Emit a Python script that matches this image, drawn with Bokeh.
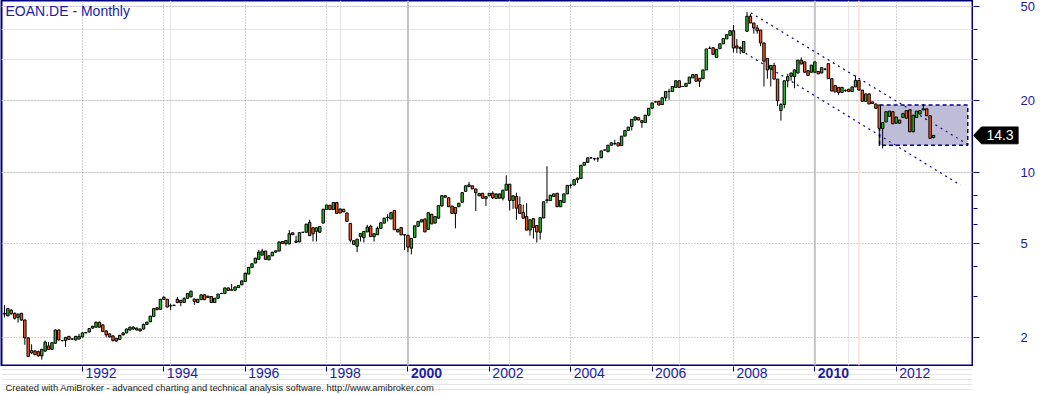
import pandas as pd
from bokeh.plotting import figure
from bokeh.layouts import column, row
from bokeh.core.properties import value
from bokeh.models import (ColumnDataSource, FixedTicker, Range1d, Span, Label, Grid,
                          LogAxis)
from bokeh.embed import file_html
from bokeh.resources import INLINE

# ---- data: EOAN.DE monthly candles, first bar = Feb 1990 ----
first_month = "1990-02-01"
opens = [
    2.52, 2.48, 2.62, 2.54, 2.44, 2.54, 2.38, 2.00, 1.73, 1.76, 1.75,
    1.68, 1.76, 1.85, 1.79, 1.90, 2.16, 1.95, 1.95, 2.03, 1.98, 1.96, 1.98,
    2.02, 2.10, 2.12, 2.20, 2.22, 2.33, 2.27, 2.14, 2.08, 2.04, 1.99, 1.97,
    2.06, 2.10, 2.16, 2.22, 2.16, 2.18, 2.18, 2.28, 2.34, 2.46, 2.68, 2.64,
    2.97, 2.91, 2.73, 2.74, 2.91, 2.88, 2.82, 2.94, 2.98, 2.92, 2.82, 2.90,
    3.04, 2.96, 2.99, 2.82, 2.94, 3.08, 3.08, 3.25, 3.18, 3.18, 3.26, 3.35,
    3.46, 3.72, 3.96, 4.14, 4.29, 4.47, 4.65, 4.27, 4.44, 4.60, 4.65, 5.10,
    5.00, 4.98, 5.55, 5.06, 5.08, 5.58, 5.58, 6.14, 5.83, 5.63, 5.58, 6.10,
    6.96, 7.25, 6.96, 7.45, 7.00, 6.80, 6.73, 6.08, 5.14, 4.87, 5.35, 5.30,
    5.60, 5.92, 5.35, 5.45, 5.80, 6.10, 6.44, 6.35, 6.90, 5.60, 5.84, 5.44,
    5.42, 4.78, 5.30, 5.92, 6.17, 6.35, 5.74, 6.65, 6.10, 6.40, 7.20, 7.96,
    7.80, 7.20, 7.10, 7.15, 7.47, 8.30, 8.70, 8.76, 8.50, 7.95, 8.15, 7.75,
    7.95, 8.15, 7.75, 8.10, 7.77, 8.40, 8.90, 7.60, 7.90, 7.30, 6.76, 6.50,
    5.70, 6.37, 5.96, 5.58, 6.41, 7.60, 7.60, 7.90, 8.15, 7.15, 7.45, 8.10,
    8.80, 8.83, 9.45, 9.40, 10.70, 11.00, 11.50, 11.40, 11.40, 11.50, 12.40, 12.20,
    13.00, 13.20, 13.30, 12.95, 14.20, 15.00, 15.60, 16.60, 17.00, 16.50, 16.20, 17.40,
    18.60, 19.80, 19.90, 19.30, 20.60, 21.90, 21.90, 22.80, 24.30, 23.00, 23.00, 23.70,
    25.00, 25.80, 24.90, 24.80, 27.00, 33.30, 33.50, 30.50, 33.20, 34.80, 36.50, 37.80,
    39.50, 34.10, 33.50, 32.00, 39.30, 45.50, 42.60, 40.60, 39.80, 35.10, 30.20, 27.30,
    28.20, 24.70, 18.20, 19.30, 24.30, 25.40, 25.30, 26.20, 29.70, 29.20, 26.80, 26.40,
    26.40, 26.60, 26.20, 27.20, 28.70, 24.80, 23.20, 22.80, 21.70, 22.10, 22.40, 21.90,
    22.90, 24.40, 22.20, 19.90, 21.40, 19.80, 19.40, 19.20, 15.30, 16.30, 17.20, 18.00,
    16.10, 16.60, 17.00, 18.20, 18.30, 14.80, 17.00, 17.60, 18.30, 18.50, 17.30, 14.00,
]
highs = [
    2.75, 2.68, 2.64, 2.56, 2.53, 2.55, 2.39, 2.01, 1.88, 1.78, 1.77,
    1.80, 1.95, 1.92, 1.92, 2.17, 2.17, 1.96, 2.02, 2.04, 1.99, 2.04, 2.08,
    2.11, 2.11, 2.20, 2.25, 2.34, 2.34, 2.28, 2.15, 2.09, 2.05, 2.00, 2.06,
    2.11, 2.19, 2.23, 2.24, 2.21, 2.19, 2.30, 2.34, 2.48, 2.67, 2.69, 2.92,
    2.99, 2.92, 2.79, 2.76, 2.98, 2.89, 2.97, 3.09, 3.16, 2.93, 2.92, 3.05,
    3.05, 3.01, 3.00, 2.95, 3.07, 3.10, 3.26, 3.26, 3.38, 3.29, 3.34, 3.49,
    3.76, 3.98, 4.12, 4.35, 4.70, 4.75, 4.66, 4.45, 4.61, 4.67, 5.09, 5.11,
    5.16, 5.70, 5.56, 5.40, 5.57, 5.59, 6.05, 6.30, 5.84, 5.84, 5.91, 6.99,
    7.28, 7.26, 7.50, 7.50, 7.01, 6.99, 6.74, 6.09, 5.15, 5.23, 5.53, 5.63,
    6.00, 6.00, 5.51, 5.90, 6.13, 6.41, 6.65, 6.76, 6.91, 5.75, 5.85, 5.46,
    5.43, 5.27, 5.95, 6.21, 6.31, 6.36, 6.76, 6.66, 6.51, 7.24, 7.97, 7.97,
    7.81, 7.21, 7.11, 7.41, 8.21, 8.77, 9.10, 8.77, 8.51, 8.15, 8.16, 7.91,
    8.16, 8.30, 8.11, 8.11, 8.41, 9.70, 8.91, 7.96, 8.20, 7.90, 7.30, 7.40,
    6.31, 6.38, 5.97, 6.44, 7.51, 10.60, 8.01, 8.11, 8.16, 7.61, 8.11, 8.81,
    8.95, 9.31, 9.46, 10.71, 11.01, 11.51, 11.60, 11.50, 11.60, 12.31, 12.45, 13.01,
    13.31, 13.70, 13.31, 14.21, 15.01, 15.51, 16.71, 17.20, 17.10, 16.51, 17.41, 18.61,
    19.61, 19.90, 19.91, 20.61, 21.91, 22.50, 23.01, 24.31, 24.31, 23.10, 23.71, 25.21,
    25.81, 25.81, 24.91, 27.01, 33.11, 34.00, 33.51, 33.01, 34.81, 36.61, 38.01, 39.51,
    41.80, 36.50, 34.00, 35.61, 47.50, 46.50, 42.61, 41.80, 39.81, 35.11, 30.21, 28.21,
    29.00, 24.71, 19.60, 24.31, 26.00, 26.30, 27.10, 29.71, 30.50, 29.21, 26.81, 28.31,
    29.21, 26.61, 27.61, 27.50, 28.71, 24.81, 23.21, 22.81, 22.81, 22.40, 22.41, 22.91,
    25.60, 24.41, 22.21, 21.41, 21.41, 19.81, 19.41, 19.21, 16.21, 18.01, 18.11, 18.01,
    17.11, 16.61, 17.71, 18.21, 18.31, 17.41, 18.11, 18.21, 19.40, 18.51, 17.31, 14.31,
]
lows = [
    2.44, 2.46, 2.51, 2.39, 2.32, 2.36, 1.87, 1.66, 1.71, 1.69, 1.67,
    1.62, 1.75, 1.78, 1.78, 1.89, 1.95, 1.93, 1.83, 1.96, 1.97, 1.95, 1.97,
    2.01, 2.09, 2.11, 2.19, 2.21, 2.21, 2.12, 2.01, 2.01, 1.93, 1.93, 1.96,
    2.05, 2.09, 2.15, 2.17, 2.15, 2.13, 2.17, 2.27, 2.33, 2.45, 2.62, 2.63,
    2.90, 2.69, 2.62, 2.74, 2.80, 2.72, 2.81, 2.93, 2.97, 2.76, 2.81, 2.89,
    2.89, 2.95, 2.81, 2.81, 2.93, 3.06, 3.07, 3.16, 3.17, 3.17, 3.25, 3.34,
    3.45, 3.71, 3.95, 4.13, 4.28, 4.46, 4.28, 4.26, 4.43, 4.59, 4.64, 4.99,
    4.90, 4.97, 5.44, 5.05, 5.07, 5.57, 5.57, 5.39, 5.10, 5.10, 5.57, 6.09,
    6.95, 6.95, 6.95, 6.69, 6.72, 6.79, 6.19, 5.06, 4.95, 4.60, 5.10, 5.05,
    5.59, 5.34, 5.10, 5.44, 5.75, 6.09, 6.20, 6.34, 5.71, 5.59, 5.43, 4.70,
    4.60, 4.50, 5.29, 5.91, 6.16, 5.59, 5.73, 6.04, 6.09, 6.39, 7.19, 7.83,
    7.14, 6.69, 5.80, 7.14, 7.46, 8.29, 8.69, 8.49, 6.85, 7.94, 7.76, 7.20,
    7.94, 7.70, 7.74, 7.76, 7.60, 8.39, 6.90, 7.00, 6.30, 6.69, 6.39, 5.69,
    5.40, 5.25, 5.05, 5.20, 6.40, 7.40, 7.59, 7.89, 7.14, 7.14, 7.44, 8.09,
    8.55, 8.82, 9.00, 9.39, 10.69, 10.99, 11.40, 11.20, 11.05, 11.49, 12.35, 12.19,
    12.99, 13.00, 12.89, 12.94, 14.19, 14.99, 15.00, 16.50, 16.59, 15.40, 16.19, 17.20,
    18.59, 19.70, 19.19, 19.29, 19.90, 20.20, 21.89, 22.79, 22.79, 22.90, 22.99, 23.69,
    24.99, 24.19, 22.90, 24.79, 26.99, 33.20, 31.39, 30.49, 33.19, 34.79, 36.49, 37.79,
    32.00, 31.80, 31.50, 31.99, 39.29, 42.59, 38.40, 38.40, 34.00, 23.00, 24.80, 23.00,
    24.69, 19.00, 16.50, 18.60, 22.80, 24.30, 22.60, 26.19, 28.59, 26.39, 25.59, 26.39,
    26.39, 25.99, 26.19, 26.90, 24.79, 21.99, 21.79, 21.20, 21.69, 21.80, 21.89, 21.89,
    22.89, 22.19, 19.89, 19.89, 19.39, 19.49, 18.59, 12.90, 12.60, 16.29, 17.19, 15.99,
    16.09, 16.09, 16.99, 16.89, 14.79, 14.79, 16.99, 17.59, 18.29, 17.29, 13.89, 13.89,
]
closes = [
    2.54, 2.66, 2.53, 2.42, 2.52, 2.38, 2.00, 1.67, 1.77, 1.70, 1.68,
    1.79, 1.92, 1.79, 1.91, 2.16, 1.96, 1.95, 2.01, 1.97, 1.98, 2.03, 2.03,
    2.10, 2.11, 2.19, 2.24, 2.33, 2.22, 2.13, 2.06, 2.02, 1.95, 1.94, 2.05,
    2.10, 2.18, 2.22, 2.18, 2.20, 2.14, 2.28, 2.33, 2.47, 2.66, 2.63, 2.91,
    2.91, 2.70, 2.73, 2.75, 2.82, 2.82, 2.93, 3.08, 3.15, 2.85, 2.91, 3.04,
    2.90, 3.00, 2.82, 2.94, 3.06, 3.08, 3.25, 3.17, 3.19, 3.28, 3.33, 3.48,
    3.75, 3.97, 4.11, 4.34, 4.60, 4.65, 4.29, 4.44, 4.60, 4.66, 5.08, 5.00,
    5.15, 5.50, 5.45, 5.12, 5.56, 5.58, 6.04, 5.40, 5.50, 5.83, 5.90, 6.98,
    7.27, 6.96, 7.45, 6.70, 6.73, 6.98, 6.20, 5.17, 4.96, 5.22, 5.52, 5.62,
    5.87, 5.35, 5.50, 5.80, 6.12, 6.40, 6.45, 6.75, 5.72, 5.74, 5.44, 5.45,
    4.83, 5.26, 5.94, 6.20, 6.30, 5.60, 6.75, 6.05, 6.50, 7.23, 7.96, 7.84,
    7.15, 6.70, 6.70, 7.40, 8.20, 8.76, 8.84, 8.50, 8.20, 8.14, 7.77, 7.90,
    8.15, 7.80, 8.10, 7.77, 8.40, 8.90, 7.60, 7.95, 7.05, 6.70, 6.40, 5.70,
    6.30, 5.85, 5.60, 6.43, 7.50, 7.65, 8.00, 8.10, 7.15, 7.60, 8.10, 8.80,
    8.80, 9.30, 9.30, 10.70, 11.00, 11.50, 11.50, 11.40, 11.40, 12.30, 12.40, 13.00,
    13.30, 13.20, 12.90, 14.20, 15.00, 15.50, 16.70, 17.10, 16.60, 16.20, 17.40, 18.60,
    19.60, 19.80, 19.20, 20.60, 21.90, 21.90, 23.00, 24.30, 22.80, 23.00, 23.70, 25.20,
    25.80, 24.20, 24.20, 27.00, 33.10, 33.30, 31.40, 33.00, 34.80, 36.60, 38.00, 39.50,
    33.40, 33.40, 33.20, 35.60, 45.50, 42.60, 40.60, 39.50, 35.10, 29.40, 27.00, 28.20,
    24.70, 20.00, 19.30, 24.30, 25.30, 26.20, 27.00, 29.70, 28.60, 26.40, 25.60, 28.30,
    29.20, 26.00, 27.60, 27.20, 24.80, 22.00, 21.80, 21.70, 22.80, 22.10, 21.90, 22.90,
    24.40, 22.20, 19.90, 21.40, 19.40, 19.50, 18.60, 15.30, 16.20, 18.00, 18.10, 16.00,
    17.10, 16.10, 17.70, 16.90, 14.80, 17.40, 18.10, 18.20, 18.50, 17.30, 13.90, 14.30,
]

# down-trend channel and consolidation range drawn on the chart
channel_upper_x = [221.1, 285.1]
channel_upper_y = [47.0, 13.1]
channel_lower_x = [218.1, 283.0]
channel_lower_y = [32.7, 8.82]
range_left, range_right = 259.1, 285.1
range_low, range_high = 13.0, 19.2
selector_bar = 253

y_ticks = [2, 5, 10, 20, 50]
y_minor_ticks = [3, 4, 6, 7, 8, 30, 40]

# ---- styling constants ----
NAVY = "#000080"
LABEL_BLUE = "#1c1ca4"
UP = "#2cb82c"
DOWN = "#f25a22"
GRID = "#a8a8a8"
FONT = "Liberation Sans"

n = len(closes)
idx = list(range(1, n + 1))
dates = pd.date_range(first_month, periods=n, freq="MS")
year_ticks = [i for i, d in zip(idx, dates) if d.month == 1 and d.year % 2 == 0]
year_labels = [str(d.year) for d in dates if d.month == 1 and d.year % 2 == 0]
decade_ticks = [i for i, d in zip(idx, dates) if d.month == 1 and d.year % 10 == 0]

src = ColumnDataSource(dict(
    x=idx, open=opens, high=highs, low=lows, close=closes,
    top=[max(o, c) for o, c in zip(opens, closes)],
    bottom=[min(o, c) for o, c in zip(opens, closes)],
    color=[UP if c > o else DOWN for o, c in zip(opens, closes)],
))

xr = Range1d(0.12, 286.5)
yr = Range1d(1.53, 53.0)

# ---------------- main price panel ----------------
p = figure(width=973, height=366, y_axis_type="log",
           x_axis_location=None, y_axis_location=None,
           x_range=xr, y_range=yr,
           min_border_left=1, min_border_right=1, min_border_top=0, min_border_bottom=1,
           output_backend="svg", toolbar_location=None)
p.background_fill_color = "white"
p.border_fill_color = "white"
p.outline_line_color = NAVY
p.outline_line_width = 2

p.add_layout(Grid(dimension=0, ticker=FixedTicker(ticks=year_ticks),
                  grid_line_color=GRID, grid_line_dash="1 2"))
p.add_layout(Grid(dimension=1, ticker=FixedTicker(ticks=y_ticks),
                  grid_line_color=GRID, grid_line_dash="1 2"))

for t in decade_ticks:
    p.add_layout(Span(location=t, dimension="height", line_color="#c4c4c4",
                      line_width=2, level="underlay"))
p.add_layout(Span(location=selector_bar, dimension="height", line_color="#ffdcdc",
                  line_width=1.5, level="underlay"))

p.quad(left=[range_left], right=[range_right], bottom=[range_low], top=[range_high],
       fill_color="#bdbdd7", line_color=NAVY, line_dash="4 3", line_width=1.5)

p.line(channel_upper_x, channel_upper_y, line_color=NAVY, line_dash="2 4", line_width=1.2)
p.line(channel_lower_x, channel_lower_y, line_color=NAVY, line_dash="2 4", line_width=1.2)

p.segment(x0="x", y0="low", x1="x", y1="high", source=src, line_color="black", line_width=1)
p.vbar(x="x", top="top", bottom="bottom", width=0.72, source=src,
       fill_color="color", line_color="black", line_width=1)

p.add_layout(Label(x=4, y=363, x_units="screen", y_units="screen", text="EOAN.DE - Monthly",
                   text_font=FONT, text_font_size="14px", text_color=LABEL_BLUE,
                   text_baseline="top"))

# ---------------- price axis panel (right) ----------------
s = figure(width=67, height=366, y_axis_type="log", x_axis_location=None,
           y_axis_location="left", x_range=Range1d(0, 45), y_range=yr,
           min_border_left=0, min_border_right=22, min_border_top=0, min_border_bottom=1,
           output_backend="svg", toolbar_location=None)
s.outline_line_color = None
s.background_fill_color = "white"
s.border_fill_color = "white"
s.xgrid.visible = False
s.ygrid.visible = False
la = s.yaxis[0]
la.ticker = FixedTicker(ticks=y_ticks, minor_ticks=y_minor_ticks)
la.axis_line_color = None
la.major_tick_line_color = NAVY
la.minor_tick_line_color = NAVY
la.major_tick_in = 6
la.major_tick_out = 0
la.minor_tick_in = 4
la.minor_tick_out = 0
la.major_label_standoff = 0
la.major_label_text_font_size = "0px"
la.major_label_overrides = {t: "" for t in y_ticks}

ra = LogAxis(ticker=FixedTicker(ticks=y_ticks))
ra.axis_line_color = None
ra.major_tick_out = 0
ra.major_tick_in = 0
ra.minor_tick_out = 0
ra.minor_tick_in = 0
ra.major_label_standoff = 2
ra.major_label_text_font = FONT
ra.major_label_text_font_size = "13px"
ra.major_label_text_color = LABEL_BLUE
s.add_layout(ra, "right")

last = closes[-1]
f = 1.085
s.patch([0, 8, 45, 45, 8], [last, last * f, last * f, last / f, last / f],
        fill_color="black", line_color="black")
s.text(x=[26.5], y=[last], text=[f"{last:.1f}"], text_color="white",
       text_font=value(FONT), text_font_size="14px",
       text_align="center", text_baseline="middle")

# ---------------- time axis panel (bottom) ----------------
b = figure(width=1040, height=28, x_range=xr, y_range=Range1d(0, 28),
           x_axis_location="above", y_axis_location=None,
           min_border_left=1, min_border_right=68, min_border_top=0, min_border_bottom=0,
           output_backend="svg", toolbar_location=None)
b.outline_line_color = None
b.background_fill_color = "white"
b.border_fill_color = "white"
b.xgrid.visible = False
ta = b.xaxis[0]
ta.ticker = FixedTicker(ticks=year_ticks)
ta.axis_line_color = None
ta.major_tick_line_color = NAVY
ta.major_tick_in = 5
ta.major_tick_out = 0
ta.minor_tick_in = 0
ta.minor_tick_out = 0
ta.major_label_standoff = 0
ta.major_label_text_font_size = "0px"
ta.major_label_overrides = {t: "" for t in year_ticks}

ysrc = ColumnDataSource(dict(
    x=year_ticks, text=year_labels,
    style=["bold" if int(l) % 10 == 0 else "normal" for l in year_labels],
))
b.text(x="x", y=27, text="text", source=ysrc, x_offset=3,
       text_font=value(FONT), text_font_size="14px", text_font_style="style",
       text_color=LABEL_BLUE, text_align="left", text_baseline="top")
b.add_layout(Label(x=4, y=13, x_units="screen", y_units="screen",
                   text="Created with AmiBroker - advanced charting and technical analysis software. http://www.amibroker.com",
                   text_font=FONT, text_font_size="9.4px", text_color="#202020",
                   text_baseline="top"))

layout = column(row(p, s), b)
open("out.html", "w").write(file_html(layout, INLINE))
